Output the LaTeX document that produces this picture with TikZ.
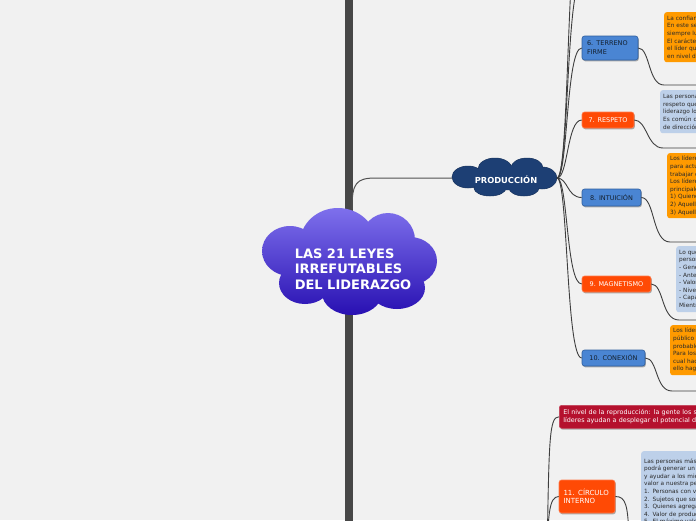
\documentclass[tikz,border=0pt]{standalone}
\usepackage{fontspec}
\setmainfont{DejaVu Sans}
\usetikzlibrary{shadows}
\definecolor{bg}{HTML}{F1F1F1}
\definecolor{barc}{HTML}{474747}
\definecolor{linec}{HTML}{3E3E3E}
\definecolor{cloudT}{HTML}{7E70EC}
\definecolor{cloudB}{HTML}{2810B2}
\definecolor{prodF}{HTML}{1D3F74}
\definecolor{prodD}{HTML}{142E58}
\definecolor{blueF}{HTML}{4A85D3}
\definecolor{blueD}{HTML}{2F5E9E}
\definecolor{blueT}{HTML}{14202E}
\definecolor{redF}{HTML}{FF4A05}
\definecolor{redD}{HTML}{FF7A4A}
\definecolor{crimF}{HTML}{B5112E}
\definecolor{orF}{HTML}{FF9A00}
\definecolor{lbF}{HTML}{BDD0E9}
\definecolor{noteT}{HTML}{2A2A2A}
\begin{document}
\begin{tikzpicture}[x=1pt,y=-1pt,
  conn/.style={draw=linec, line width=0.9pt},
  lbl/.style={rounded corners=2.5pt, inner sep=0pt, line width=0.6pt,
    drop shadow={shadow xshift=0.8pt, shadow yshift=-1.3pt, fill=black, opacity=0.3},
    font=\fontsize{6.5}{9}\selectfont},
  bluebox/.style={lbl, fill=blueF, draw=blueD, text=blueT},
  redbox/.style={lbl, fill=redF, draw=redD, text=white},
  note/.style={rounded corners=2.5pt, anchor=north west, align=left, inner xsep=3pt, inner ysep=2pt,
    font=\fontsize{5.8}{7.6}\selectfont, text=noteT, text width=220pt},
  ornote/.style={note, fill=orF},
  lbnote/.style={note, fill=lbF},
]
\useasboundingbox (0,0) rectangle (696,520);
\clip (0,0) rectangle (696,520);
\fill[bg] (0,0) rectangle (696,520);

% main vertical bar
\draw[barc, line width=8pt] (349,-10) -- (349,530);

% coordinates
\coordinate (rootTop) at (352,209);
\coordinate (prodL) at (452,178);
\coordinate (prodR) at (557,178);
\coordinate (up1) at (582,-20);
\coordinate (up2) at (582,-90);
\coordinate (lowroot) at (547,560);
\coordinate (e6) at (710,85);
\coordinate (e7) at (710,148);
\coordinate (e8) at (710,242);
\coordinate (e9) at (710,320);
\coordinate (e10) at (710,391);
\coordinate (e11) at (629,540);

% connector root -> produccion
\draw[draw=linec!90, line width=1pt] (rootTop) .. controls (352,183) and (356,178) .. (376,178) -- (prodL);

% main cloud
\shade[top color=cloudT, bottom color=cloudB]
  (290,251) ellipse (28 and 25) (338,243) ellipse (38 and 35) (388,240) ellipse (27 and 27)
  (410,261) ellipse (27 and 24) (397,288) ellipse (28 and 21) (352,293) ellipse (30 and 22)
  (305,283) ellipse (26 and 21) (349,262) ellipse (62 and 32);
\node[text=white, font=\bfseries\fontsize{13}{15.5}\selectfont, align=left, inner sep=0pt] (root) at (353,269)
  {LAS 21 LEYES\\IRREFUTABLES\\DEL LIDERAZGO};

% produccion cloud
\fill[prodF, draw=prodD, line width=0.5pt]
  (468,177) ellipse (16 and 11) (495,169) ellipse (17 and 11) (527,168) ellipse (16 and 10)
  (542,178) ellipse (15 and 11) (524,188) ellipse (15 and 8) (490,188) ellipse (16 and 8)
  (505,178) ellipse (42 and 12);
\fill[prodF]
  (468,177) ellipse (15.5 and 10.5) (495,169) ellipse (16.5 and 10.5) (527,168) ellipse (15.5 and 9.5)
  (542,178) ellipse (14.5 and 10.5) (524,188) ellipse (14.5 and 7.5) (490,188) ellipse (15.5 and 7.5)
  (505,178) ellipse (42 and 12);
\node[text=white, font=\bfseries\fontsize{8.3}{10}\selectfont, inner sep=0pt] (prod) at (506,180) {PRODUCCIÓN};

% notes
\node[ornote, minimum height=50pt] (n6) at (664,12) {La confianza es el fundamento del liderazgo.\\En este sentido, el líder debe\\siempre luchar por ser confiable.\\El carácter comunica confianza y es\\el líder quien debe estar por encima\\en nivel de carácter.};
\node[lbnote, minimum height=43pt] (n7) at (660,90) {Las personas siguen a los líderes\\respeto  que se han ganado. El\\liderazgo los hace seguir.\\Es común que se siga a alguien\\de dirección más fuerte.};
\node[ornote, minimum height=65pt] (n8) at (667,153) {Los líderes evalúan todo\\para actuar con ventaja y\\trabajar con intuición.\\Los líderes se dividen en tres\\principales categorías:\\1) Quienes la ven claramente\\2) Aquellos que pueden aprender\\3) Aquellos que nunca la verán};
\node[lbnote, minimum height=66pt] (n9) at (676,246) {Lo que usted es, eso atrae.\\personas similares en:\\- Generación\\- Antecedentes\\- Valores\\- Nivel de energía\\- Capacidad\\Mientras mejor sea el líder};
\node[ornote, minimum height=50pt] (n10) at (670,325) {Los líderes tocan el corazón\\público antes de pedir\\probablemente una mano.\\Para los líderes es lo\\cual hace que la gente\\ello haga lo que pide.};
\node[lbnote, minimum height=80pt] (n11) at (641,451) {Las personas más cercanas\\podrá generar un equipo\\y ayudar a los miembros\\valor a nuestra personalidad:\\1. Personas con valor\\2. Sujetos que son estratégicos\\3. Quienes agregan valor\\4. Valor de producción\\5. El máximo valor};

% labels
\node[bluebox, minimum width=56pt, minimum height=24pt, align=left, text width=46pt] (t6) at (610,48) {6. TERRENO\\FIRME};
\node[redbox, minimum width=52pt, minimum height=16pt] (t7) at (608,120) {7. RESPETO};
\node[bluebox, minimum width=59pt, minimum height=17pt] (t8) at (611.5,197.5) {8. INTUICIÓN};
\node[redbox, minimum width=69pt, minimum height=16pt] (t9) at (616.5,284) {9. MAGNETISMO};
\node[bluebox, minimum width=63pt, minimum height=16pt] (t10) at (613.5,358) {10. CONEXIÓN};
\node[redbox, minimum width=56pt, minimum height=33pt, align=left, text width=47pt, font=\fontsize{7}{8.5}\selectfont] (t11) at (587,496.5) {11. CÍRCULO\\INTERNO};
\node[lbl, fill=crimF, draw=crimF!80!white, text=white, anchor=north west, align=left, inner xsep=4pt,
  minimum height=23pt, text width=220pt, font=\fontsize{6.4}{7.7}\selectfont] (rep) at (559,405)
  {El nivel de la reproducción: la gente los sigue por lo que los\\líderes ayudan a desplegar el potencial de cada uno};

% connectors from produccion
\draw[conn] (prodR) .. controls (570,178) and (566,-90) .. (up2);
\draw[conn] (prodR) .. controls (569,178) and (566,-20) .. (up1);
\draw[conn] (prodR) .. controls (568,178) and (566,48) .. (t6.west);
\draw[conn] (prodR) .. controls (568,178) and (567,120) .. (t7.west);
\draw[conn] (prodR) .. controls (568,178) and (567,197.5) .. (t8.west);
\draw[conn] (prodR) .. controls (568,178) and (566,284) .. (t9.west);
\draw[conn] (prodR) .. controls (568,178) and (566,358) .. (t10.west);

% connectors below notes
\draw[conn] (t6.east) .. controls (650,48) and (648,85) .. (664,85) -- (e6);
\draw[conn] (t7.east) .. controls (647,120) and (647,148) .. (663,148) -- (e7);
\draw[conn] (t8.east) .. controls (655,197.5) and (652,242) .. (670,242) -- (e8);
\draw[conn] (t9.east) .. controls (664,284) and (661,320) .. (679,320) -- (e9);
\draw[conn] (t10.east) .. controls (658,358) and (655,391) .. (672,391) -- (e10);
\draw[conn] (t11.east) .. controls (626,496.5) and (628,505) .. (e11);

% lower connectors
\draw[conn] (lowroot) .. controls (549,440) and (549,416.5) .. (rep.west);
\draw[conn] (lowroot) .. controls (548,515) and (549,496.5) .. (t11.west);
\end{tikzpicture}
\end{document}
